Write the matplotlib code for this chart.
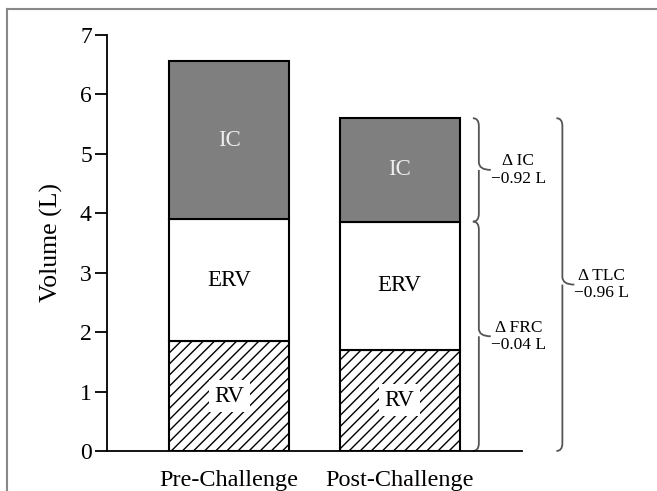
import matplotlib.pyplot as plt
import numpy as np
from matplotlib.path import Path
from matplotlib.patches import PathPatch
from matplotlib.lines import Line2D

plt.rcParams['font.family'] = ['Liberation Serif', 'DejaVu Serif']

conditions = ['Pre-Challenge', 'Post-Challenge']
rv = [1.85, 1.70]
erv = [2.05, 2.16]
ic = [2.66, 1.74]
delta_labels = ['\u0394 IC\n\u22120.92 L', '\u0394 FRC\n\u22120.04 L', '\u0394 TLC\n\u22120.96 L']

rv = np.array(rv)
erv = np.array(erv)
ic = np.array(ic)
x = np.arange(len(conditions))
w = 0.705

fig = plt.figure(figsize=(6.57, 4.91), dpi=100)
ax = fig.add_axes([0.163, 0.0815, 0.632, 0.8472])

plt.rcParams['hatch.linewidth'] = 1.0
ax.bar(x, rv, w, color='white', edgecolor='black', hatch='///', linewidth=1.5)
ax.bar(x, erv, w, bottom=rv, color='white', edgecolor='black', linewidth=1.5)
ax.bar(x, ic, w, bottom=rv + erv, color='#7f7f7f', edgecolor='black', linewidth=1.5)

for i in x:
    ax.text(i, rv[i] / 2, 'RV', ha='center', va='center', fontsize=16.5,
            bbox=dict(facecolor='white', edgecolor='none', pad=4))
    ax.text(i, rv[i] + erv[i] / 2, 'ERV', ha='center', va='center', fontsize=16.5)
    ax.text(i, rv[i] + erv[i] + ic[i] / 2, 'IC', ha='center', va='center',
            fontsize=16.5, color='#eeeeee')


def brace(x0, y0, y1, r=0.13, dx=0.035, tip=0.07):
    # curly brace "}" from y0 (bottom) to y1 (top), left edge at x0
    xm = x0 + dx
    ym = (y0 + y1) / 2
    verts = [(x0, y1), (xm, y1), (xm, y1 - r),
             (xm, ym + r), (xm, ym), (x0 + dx + tip, ym),
             (xm, ym), (xm, ym - r),
             (xm, y0 + r), (xm, y0), (x0, y0)]
    codes = [Path.MOVETO, Path.CURVE3, Path.CURVE3,
             Path.LINETO, Path.CURVE3, Path.CURVE3,
             Path.MOVETO, Path.CURVE3,
             Path.LINETO, Path.CURVE3, Path.CURVE3]
    p = PathPatch(Path(verts, codes), fill=False, edgecolor='#555555',
                  linewidth=1.3, clip_on=False)
    ax.add_patch(p)
    return x0 + dx + tip, ym


frc_post = rv[1] + erv[1]
tlc_post = frc_post + ic[1]
bx, by = brace(1.43, frc_post, tlc_post)
ax.text(bx + 0.0, by, delta_labels[0], ha='left', va='center', fontsize=12.5,
        multialignment='center', linespacing=1.1)
bx, by = brace(1.43, 0, frc_post)
ax.text(bx + 0.0, by, delta_labels[1], ha='left', va='center', fontsize=12.5,
        multialignment='center', linespacing=1.1)
bx, by = brace(1.92, 0, tlc_post)
ax.text(bx + 0.0, by, delta_labels[2], ha='left', va='center', fontsize=12.5,
        multialignment='center', linespacing=1.1)

ax.set_xlim(-0.716, 1.72)
ax.set_ylim(0, 7)
ax.set_yticks(range(8))
ax.set_xticks(x)
ax.set_xticklabels(conditions, fontsize=17.5)
ax.tick_params(axis='x', length=0, pad=14)
ax.tick_params(axis='y', length=9, width=1.3, labelsize=17, pad=2)
ax.set_ylabel('Volume (L)', fontsize=18.5, labelpad=12)
ax.spines['top'].set_visible(False)
ax.spines['right'].set_visible(False)
ax.spines['left'].set_linewidth(1.3)
ax.spines['bottom'].set_linewidth(1.3)

# frame around the figure image
fig.add_artist(Line2D([0.011, 0.011], [0, 0.981], color='#888888', lw=1.5))
fig.add_artist(Line2D([0.011, 1], [0.981, 0.981], color='#888888', lw=1.5))

fig.savefig('out.png', dpi=100)
